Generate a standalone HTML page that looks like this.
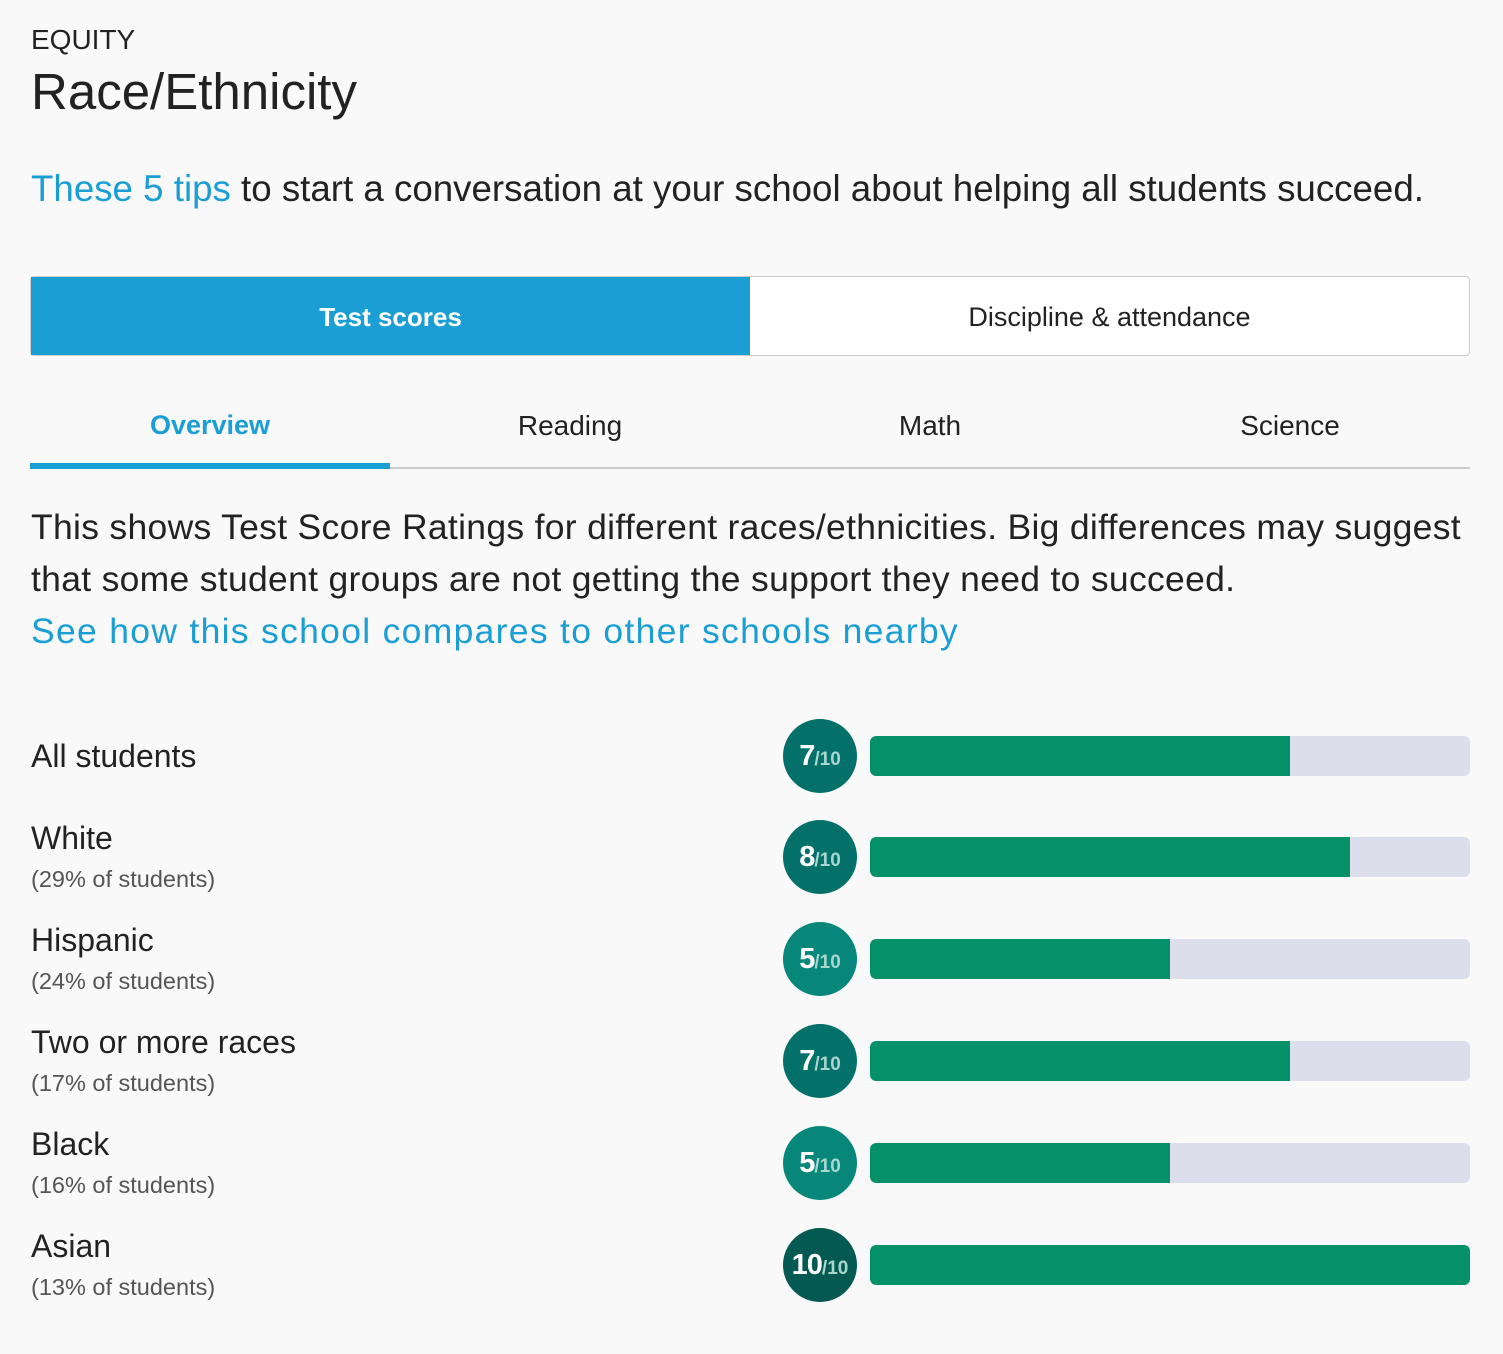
<!DOCTYPE html>
<html><head><meta charset="utf-8"><style>
body{margin:0;width:1503px;height:1354px;background:#f9f9f9;font-family:"Liberation Sans",sans-serif;color:#222;position:relative;overflow:hidden}
.a{position:absolute;white-space:nowrap}
.c{position:absolute;left:783px;width:74px;height:74px;border-radius:50%;color:#fff;font-weight:bold;font-size:29px;text-align:center;line-height:74px;letter-spacing:-1px}
.c small{font-size:19px;color:#a9d6cf;letter-spacing:0}
.t{position:absolute;left:870px;width:600px;height:40px;border-radius:6px;background:#dcdeec;overflow:hidden}
.t div{height:100%;background:#049168;border-radius:6px 0 0 6px}
.n{position:absolute;left:31px;font-size:32px;color:#222}
.p{position:absolute;left:31px;font-size:23.5px;color:#555}
</style></head><body>
<div class="a" style="left:31px;top:24px;font-size:28px">EQUITY</div>
<div class="a" style="left:31px;top:62px;font-size:51px">Race/Ethnicity</div>
<div class="a" style="left:31px;top:168px;font-size:36.7px"><span style="color:#1a9ed4">These 5 tips</span> to start a conversation at your school about helping all students succeed.</div>
<div class="a" style="left:30px;top:276px;width:1438px;height:78px;border:1px solid #ccc;border-radius:4px;background:#fff"></div>
<div class="a" style="left:31px;top:277px;width:719px;height:78px;background:#1a9ed4;color:#fff;font-weight:bold;font-size:26px;text-align:center;line-height:80px">Test scores</div>
<div class="a" style="left:750px;top:277px;width:719px;height:78px;font-size:27px;text-align:center;line-height:80px">Discipline &amp; attendance</div>
<div class="a" style="left:30px;top:467px;width:1440px;height:2px;background:#ccc"></div>
<div class="a" style="left:30px;top:463px;width:360px;height:6px;background:#1a9ed4"></div>
<div class="a" style="left:30px;top:410px;width:360px;text-align:center;font-size:27px;color:#1a9ed4;font-weight:bold">Overview</div>
<div class="a" style="left:390px;top:410px;width:360px;text-align:center;font-size:28px">Reading</div>
<div class="a" style="left:750px;top:410px;width:360px;text-align:center;font-size:28px">Math</div>
<div class="a" style="left:1110px;top:410px;width:360px;text-align:center;font-size:28px">Science</div>
<div class="a" style="left:31px;top:501px;font-size:35.5px;letter-spacing:0.3px;line-height:52px;white-space:normal;width:1460px">This shows Test Score Ratings for different races/ethnicities. Big differences may suggest that some student groups are not getting the support they need to succeed.<br><span style="color:#1a9ed4;letter-spacing:1.3px">See how this school compares to other schools nearby</span></div>

<div class="n" style="top:738px">All students</div>
<div class="c" style="top:719px;background:#04706a">7<small>/10</small></div><div class="t" style="top:736px"><div style="width:420px"></div></div>

<div class="n" style="top:820px">White</div><div class="p" style="top:866px">(29% of students)</div>
<div class="c" style="top:820px;background:#04706a">8<small>/10</small></div><div class="t" style="top:837px"><div style="width:480px"></div></div>

<div class="n" style="top:922px">Hispanic</div><div class="p" style="top:968px">(24% of students)</div>
<div class="c" style="top:922px;background:#07877a">5<small>/10</small></div><div class="t" style="top:939px"><div style="width:300px"></div></div>

<div class="n" style="top:1024px">Two or more races</div><div class="p" style="top:1070px">(17% of students)</div>
<div class="c" style="top:1024px;background:#04706a">7<small>/10</small></div><div class="t" style="top:1041px"><div style="width:420px"></div></div>

<div class="n" style="top:1126px">Black</div><div class="p" style="top:1172px">(16% of students)</div>
<div class="c" style="top:1126px;background:#07877a">5<small>/10</small></div><div class="t" style="top:1143px"><div style="width:300px"></div></div>

<div class="n" style="top:1228px">Asian</div><div class="p" style="top:1274px">(13% of students)</div>
<div class="c" style="top:1228px;background:#045a52">10<small>/10</small></div><div class="t" style="top:1245px"><div style="width:600px"></div></div>
</body></html>
